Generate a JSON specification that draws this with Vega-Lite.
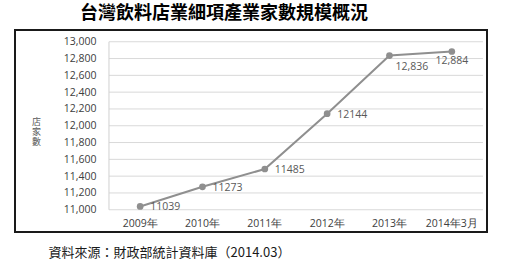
{
  "$schema": "https://vega.github.io/schema/vega-lite/v6.json",
  "autosize": {"type": "none"},
  "width": 472,
  "height": 202,
  "padding": {"left": 15, "top": 30, "right": 25, "bottom": 30},
  "background": "white",
  "title": {
    "text": "台灣飲料店業細項產業家數規模概況",
    "font": "Noto Sans CJK TC",
    "fontWeight": "bold",
    "fontSize": 18,
    "color": "#000000",
    "anchor": "middle",
    "dx": -27,
    "baseline": "bottom",
    "offset": -11
  },
  "config": {
    "view": {"stroke": "#1a1a1a", "strokeWidth": 2},
    "font": "Open Sans",
    "axis": {"labelOverlap": false},
    "axisY": {"labelOverlap": false},
    "axisQuantitative": {"labelOverlap": false}
  },
  "datasets": {
    "main": [
      {"period": "2009年", "stores": 11039, "label": "11039"},
      {"period": "2010年", "stores": 11273, "label": "11273"},
      {"period": "2011年", "stores": 11485, "label": "11485"},
      {"period": "2012年", "stores": 12144, "label": "12144"},
      {"period": "2013年", "stores": 12836, "label": "12,836"},
      {"period": "2014年3月", "stores": 12884, "label": "12,884"}
    ],
    "gridvals": [
      {"v": 11000, "from": "2009年", "to": "2014年3月"},
      {"v": 11200, "from": "2009年", "to": "2014年3月"},
      {"v": 11400, "from": "2009年", "to": "2014年3月"},
      {"v": 11600, "from": "2009年", "to": "2014年3月"},
      {"v": 11800, "from": "2009年", "to": "2014年3月"},
      {"v": 12000, "from": "2009年", "to": "2014年3月"},
      {"v": 12200, "from": "2009年", "to": "2014年3月"},
      {"v": 12400, "from": "2009年", "to": "2014年3月"},
      {"v": 12600, "from": "2009年", "to": "2014年3月"},
      {"v": 12800, "from": "2009年", "to": "2014年3月"},
      {"v": 13000, "from": "2009年", "to": "2014年3月"}
    ]
  },
  "encoding": {
    "x": {
      "field": "period",
      "type": "ordinal",
      "sort": null,
      "scale": {
        "domain": ["2009年", "2010年", "2011年", "2012年", "2013年", "2014年3月"],
        "paddingInner": 0,
        "paddingOuter": 0.786,
        "align": 0.959
      },
      "axis": {
        "bandPosition": 0.5,
        "title": "資料來源：財政部統計資料庫（2014.03）",
        "titleFont": "Noto Sans CJK TC",
        "titleFontSize": 13,
        "titleFontWeight": "normal",
        "titleColor": "#1a1a1a",
        "titleAlign": "left",
        "titleAnchor": "start",
        "titleBaseline": "middle",
        "titleX": 33,
        "titleY": 42,
        "offset": -22,
        "domain": false,
        "ticks": false,
        "grid": false,
        "labelAngle": 0,
        "labelPadding": 8,
        "labelFontSize": 10.5,
        "labelColor": "#404040",
        "labelFont": "Open Sans"
      }
    },
    "y": {
      "field": "stores",
      "type": "quantitative",
      "scale": {"domain": [10735, 13140], "nice": false, "zero": false},
      "axis": {
        "title": ["店", "家", "數"],
        "titleAngle": 0,
        "titleFont": "Noto Sans CJK TC",
        "titleFontSize": 9,
        "titleFontWeight": "normal",
        "titleColor": "#595959",
        "titleLineHeight": 10,
        "titleAlign": "center",
        "titleBaseline": "middle",
        "titleX": -73,
        "titleY": 91,
        "offset": -94,
        "values": [11000, 11200, 11400, 11600, 11800, 12000, 12200, 12400, 12600, 12800, 13000],
        "format": ",d",
        "labelOverlap": false,
        "domain": false,
        "ticks": false,
        "grid": false,
        "labelPadding": 13,
        "labelFontSize": 10.5,
        "labelColor": "#404040",
        "labelFont": "Open Sans"
      }
    }
  },
  "layer": [
    {
      "data": {"name": "gridvals"},
      "mark": {"type": "rule", "color": "#d9d9d9", "strokeWidth": 1},
      "encoding": {
        "x": {
          "field": "from",
          "type": "ordinal",
          "bandPosition": 0,
          "axis": {
            "bandPosition": 0.5,
            "title": "資料來源：財政部統計資料庫（2014.03）",
            "titleFont": "Noto Sans CJK TC",
            "titleFontSize": 13,
            "titleFontWeight": "normal",
            "titleColor": "#1a1a1a",
            "titleAlign": "left",
            "titleAnchor": "start",
            "titleBaseline": "middle",
            "titleX": 33,
            "titleY": 42,
            "offset": -22,
            "domain": false,
            "ticks": false,
            "grid": false,
            "labelAngle": 0,
            "labelPadding": 8,
            "labelFontSize": 10.5,
            "labelColor": "#404040",
            "labelFont": "Open Sans"
          }
        },
        "x2": {"field": "to", "bandPosition": 1},
        "y": {
          "field": "v",
          "type": "quantitative",
          "axis": {
            "title": ["店", "家", "數"],
            "titleAngle": 0,
            "titleFont": "Noto Sans CJK TC",
            "titleFontSize": 9,
            "titleFontWeight": "normal",
            "titleColor": "#595959",
            "titleLineHeight": 10,
            "titleAlign": "center",
            "titleBaseline": "middle",
            "titleX": -73,
            "titleY": 91,
            "offset": -94,
            "values": [11000, 11200, 11400, 11600, 11800, 12000, 12200, 12400, 12600, 12800, 13000],
            "format": ",d",
            "labelOverlap": false,
            "domain": false,
            "ticks": false,
            "grid": false,
            "labelPadding": 13,
            "labelFontSize": 10.5,
            "labelColor": "#404040",
            "labelFont": "Open Sans"
          }
        }
      }
    },
    {
      "data": {"name": "gridvals"},
      "transform": [{"filter": "datum.v == 11000"}],
      "mark": {"type": "rule", "color": "#d0d0d0", "strokeWidth": 1},
      "encoding": {
        "x": {"field": "from", "type": "ordinal", "bandPosition": 0},
        "y": {"field": "v", "type": "quantitative"},
        "y2": {"datum": 13000}
      }
    },
    {
      "data": {"name": "main"},
      "mark": {"type": "line", "color": "#8f8f8f", "strokeWidth": 2}
    },
    {
      "data": {"name": "main"},
      "mark": {"type": "point", "filled": true, "color": "#8f8f8f", "size": 45, "opacity": 1}
    },
    {
      "data": {"name": "main"},
      "transform": [{"filter": "datum.stores < 12500"}],
      "mark": {"type": "text", "align": "left", "baseline": "middle", "dx": 10, "dy": 1, "fontSize": 10.5, "color": "#595959", "font": "Open Sans"},
      "encoding": {"text": {"field": "label"}}
    },
    {
      "data": {"name": "main"},
      "transform": [{"filter": "datum.period == '2013年'"}],
      "mark": {"type": "text", "align": "left", "baseline": "middle", "dx": 6, "dy": 11, "fontSize": 10.5, "color": "#595959", "font": "Open Sans"},
      "encoding": {"text": {"field": "label"}}
    },
    {
      "data": {"name": "main"},
      "transform": [{"filter": "datum.period == '2014年3月'"}],
      "mark": {"type": "text", "align": "center", "baseline": "middle", "dx": 0, "dy": 9, "fontSize": 10.5, "color": "#595959", "font": "Open Sans"},
      "encoding": {"text": {"field": "label"}}
    }
  ]
}
